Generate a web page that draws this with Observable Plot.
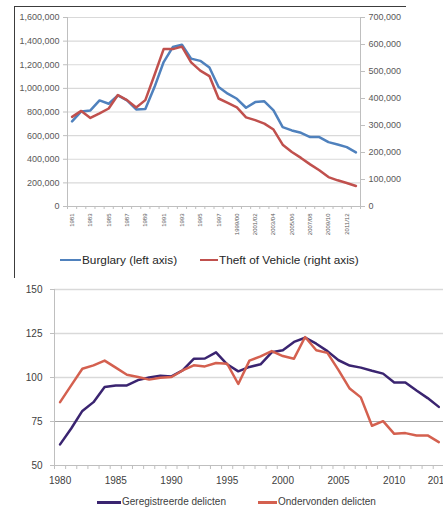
<!DOCTYPE html>
<html><head><meta charset="utf-8">
<script src="https://cdn.jsdelivr.net/npm/d3@7"></script>
<script src="https://cdn.jsdelivr.net/npm/@observablehq/plot@0.6"></script>
<style>
html,body{margin:0;padding:0;background:#fff;width:443px;height:512px;overflow:hidden;position:relative;font-family:"Liberation Sans",Arial,sans-serif;}
#frame{position:absolute;left:14px;top:6px;width:391px;height:271px;border-top:1.5px solid #3c3c3c;border-left:1.5px solid #3c3c3c;z-index:3;pointer-events:none;}
#top{position:absolute;left:0;top:0;}
#bottom{position:absolute;left:0;top:270px;width:480px;}
#bottom svg,#top svg{max-width:none !important;}
.leg{position:absolute;display:flex;align-items:center;white-space:nowrap;color:#262626;line-height:14px;}
.sw{display:inline-block;height:2.5px;margin-right:1px;}
.sw2{display:inline-block;height:3px;margin-right:1px;}
</style></head><body>
<div id="frame"></div>
<div id="top"></div>
<div id="bottom"></div>
<div class="leg" style="left:60px;top:253px;font-size:11.8px"><span class="sw" style="width:21px;background:#4f81bd"></span>Burglary (left axis)</div>
<div class="leg" style="left:200px;top:253px;font-size:11.8px"><span class="sw" style="width:18px;background:#c0504d"></span>Theft of Vehicle (right axis)</div>
<div class="leg" style="left:97px;top:495px;font-size:10px;color:#404040"><span class="sw2" style="width:24px;background:#3a2470"></span>Geregistreerde delicten</div>
<div class="leg" style="left:258px;top:495px;font-size:10px;color:#404040"><span class="sw2" style="width:19px;background:#d4604f"></span>Ondervonden delicten</div>
<script>
// ---- Top chart data ----
const categories = ["1981","1982","1983","1984","1985","1986","1987","1988","1989","1990","1991","1992","1993","1994","1995","1996","1997","1998/99","1999/00","2000/01","2001/02","2002/03","2003/04","2004/05","2005/06","2006/07","2007/08","2008/09","2009/10","2010/11","2011/12","2012/13"];
const burglary = [720000,805000,813000,898000,870000,940000,898000,822000,825000,1011000,1223000,1350000,1370000,1252000,1233000,1177000,1011000,955000,912000,836000,884000,890000,814000,672000,644000,624000,588000,588000,545000,525000,503000,458000];
const theftOfVehicle = [332000,354000,328000,345000,363000,413000,394000,367000,394000,487000,583000,583000,592000,534000,503000,483000,400000,384000,367000,330000,320000,307000,285000,229000,202000,180000,156000,134000,109000,97000,87000,76000];
const leftTicks = [0,200000,400000,600000,800000,1000000,1200000,1400000,1600000];
const rightTicks = [0,100000,200000,300000,400000,500000,600000,700000];

// ---- Bottom chart data ----
const years = d3.range(1980, 2015);
const geregistreerd = [62,71,81,86,94.6,95.5,95.5,98.5,100,101,100.6,104,110.6,110.8,114.3,107.5,103.5,106,107.5,114.3,115.5,120.2,122.6,119.2,115,109.8,106.8,105.6,103.8,102.2,97.2,97.2,92.6,88.3,83.3];
const ondervonden = [86,95.5,105,106.9,109.6,105.6,101.6,100.3,98.8,99.9,100.3,104,106.9,106.3,108.2,107.8,96.3,109.6,112,115,112.2,110.7,123,115.5,114,104.2,93.7,88.7,72.6,75.2,68,68.4,67.1,67.1,63.3];
const yTicksBottom = [50,75,100,125,150];
const xLabelYears = [1980,1985,1990,1995,2000,2005,2010,2014];

const fmt = d3.format(",");
const k = 1600000 / 700000;
const n = categories.length;

const topPlot = Plot.plot({
  width: 443, height: 240,
  marginLeft: 67, marginRight: 83, marginTop: 17, marginBottom: 34,
  style: {background: "transparent", maxWidth: "none", fontFamily: "Liberation Sans, Arial, sans-serif", fontSize: "9px", color: "#595959"},
  x: {type: "linear", domain: [-0.5, n - 0.5], axis: null},
  y: {domain: [0, 1600000], axis: null},
  marks: [
    Plot.ruleY(leftTicks.slice(1), {stroke: "#d9d9d9", strokeWidth: 1.2}),
    Plot.ruleX([-0.5, n - 0.5], {stroke: "#bfbfbf"}),
    Plot.ruleY([0], {stroke: "#bfbfbf"}),
    Plot.axisY({anchor: "left", ticks: leftTicks, tickFormat: fmt, tickSize: 4, tickPadding: 4, label: null, stroke: "#bfbfbf"}),
    Plot.axisY({anchor: "right", ticks: rightTicks.map(v => v * k), tickFormat: d => fmt(Math.round(d / k)), tickSize: 4, tickPadding: 4, label: null, stroke: "#bfbfbf"}),
    Plot.axisX({ticks: d3.range(-0.5, n, 1), tickFormat: () => "", tickSize: 3, label: null, stroke: "#bfbfbf"}),
    Plot.axisX({ticks: d3.range(0, n, 2), tickFormat: i => categories[i], tickRotate: -90, tickSize: 0, tickPadding: 7, fontSize: 6, label: null}),
    Plot.line(burglary, {x: (d, i) => i, y: d => d, stroke: "#4f81bd", strokeWidth: 2.5}),
    Plot.line(theftOfVehicle, {x: (d, i) => i, y: d => d * k, stroke: "#c0504d", strokeWidth: 2.5})
  ]
});
document.getElementById("top").appendChild(topPlot);

const bottomPlot = Plot.plot({
  width: 480, height: 220,
  marginLeft: 54, marginRight: 25, marginTop: 19, marginBottom: 25,
  style: {background: "transparent", maxWidth: "none", fontFamily: "Liberation Sans, Arial, sans-serif", fontSize: "10px", color: "#404040"},
  x: {domain: [1979.5, 2015.5], axis: null},
  y: {domain: [50, 150], axis: null},
  marks: [
    Plot.ruleY([100, 125, 150], {stroke: "#d9d9d9", strokeWidth: 1.5}),
    Plot.ruleY([75], {stroke: "#a6a6a6", strokeWidth: 1.2}),
    Plot.ruleX([1979.5], {stroke: "#bfbfbf"}),
    Plot.ruleY([50], {stroke: "#bfbfbf"}),
    Plot.axisY({ticks: yTicksBottom, tickSize: 4, tickPadding: 8, label: null, stroke: "#bfbfbf"}),
    Plot.axisX({ticks: d3.range(1979.5, 2016, 1), tickFormat: () => "", tickSize: 4, label: null, stroke: "#bfbfbf"}),
    Plot.axisX({ticks: xLabelYears, tickFormat: d => String(d), tickSize: 0, tickPadding: 11, label: null}),
    Plot.line(geregistreerd, {x: (d, i) => years[i], y: d => d, stroke: "#3a2470", strokeWidth: 2.5}),
    Plot.line(ondervonden, {x: (d, i) => years[i], y: d => d, stroke: "#d4604f", strokeWidth: 2.5})
  ]
});
document.getElementById("bottom").appendChild(bottomPlot);
</script>
</body></html>
